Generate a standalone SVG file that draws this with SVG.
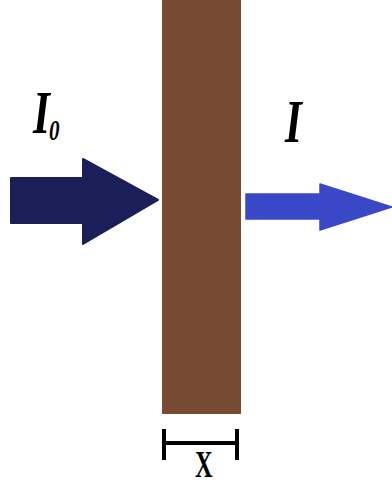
<svg xmlns="http://www.w3.org/2000/svg" width="392" height="485" viewBox="0 0 392 485">
<style>
.lbl{font-family:"Liberation Serif","Times New Roman",serif;font-style:italic;fill:#000}
.b{font-weight:bold}
.bar{stroke:#000;stroke-width:4;fill:none}
</style>
<rect width="392" height="485" fill="#fff"/>
<g id="slab"><rect x="162" y="0" width="79" height="414" fill="#784a32"/></g>
<g id="connectors">
<path id="incident" d="M11,178 H83 V159 L158,200 L83,244 V223 H11 Z" fill="#1a1f5a" stroke="#1a1f5a" stroke-width="2" stroke-linejoin="round"/>
<path id="transmitted" d="M246,194 H320 V184 L392,207 L320,230 V219 H246 Z" fill="#3a48c8" stroke="#3a48c8" stroke-width="1.5" stroke-linejoin="round"/>
</g>
<g id="label-I0">
<text class="lbl b" transform="translate(33,133) scale(0.7,1)" font-size="62">I</text>
<text class="lbl b" transform="translate(49,140) scale(0.7,1)" font-size="30">0</text>
</g>
<g id="label-I">
<text class="lbl b" transform="translate(285,142) scale(0.7,1)" font-size="62">I</text>
</g>
<g id="scale">
<path class="bar" d="M164,429 V460 M237,429 V460 M164,443 H237"/>
<text class="lbl b" style="font-style:normal" transform="translate(195,477) scale(0.66,1)" font-size="37">X</text>
</g>
</svg>
